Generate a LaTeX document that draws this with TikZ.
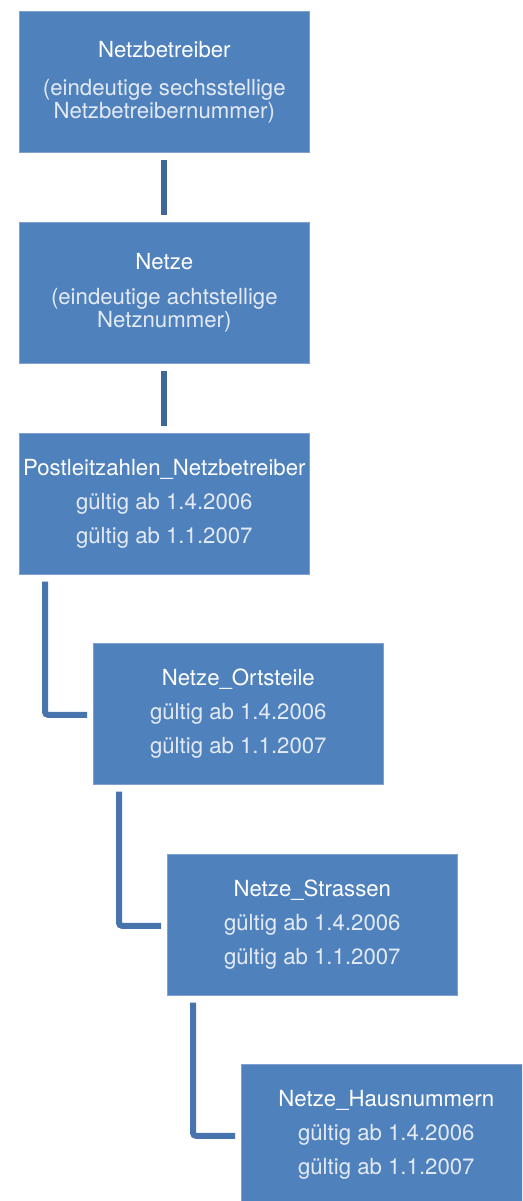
\documentclass[tikz,border=0pt]{standalone}
\usepackage{fontspec}
\setmainfont{TeX Gyre Heros}
\definecolor{boxblue}{HTML}{4F81BD}
\definecolor{boxedge}{HTML}{7FA0D0}
\definecolor{connA}{HTML}{3C6798}
\definecolor{connB}{HTML}{4874AE}
\definecolor{subtxt}{HTML}{E4EAF3}
\tikzset{
  box/.style={rectangle, fill=boxblue, draw=boxedge, line width=0.6pt, minimum width=290pt, minimum height=141pt,
    inner sep=0pt, align=center, text=white, anchor=north west, font=\fontsize{22.2}{34}\selectfont},
  boxA/.style={box, font=\fontsize{22.2}{23}\selectfont},
  connV/.style={draw=connA, line width=6pt},
  connL/.style={draw=connB, line width=6pt, rounded corners=3pt},
}
\newcommand{\subt}[1]{{\color{subtxt}#1}}
\begin{document}
\begin{tikzpicture}[x=1pt,y=-1pt]
\useasboundingbox (0,0) rectangle (522,1201);
\clip (0,0) rectangle (522,1201);
\node[boxA] (b1) at (19,11) {Netzbetreiber\\[15pt]\subt{(eindeutige sechsstellige}\\\subt{Netzbetreibernummer)}};
\node[boxA] (b2) at (19,222) {Netze\\[12pt]\subt{(eindeutige achtstellige}\\\subt{Netznummer)}};
\node[box] (b3) at (19,433) {Postleitzahlen\_Netzbetreiber\\\subt{gültig ab 1.4.2006}\\\subt{gültig ab 1.1.2007}};
\node[box] (b4) at (93,643) {Netze\_Ortsteile\\\subt{gültig ab 1.4.2006}\\\subt{gültig ab 1.1.2007}};
\node[box] (b5) at (167,854) {Netze\_Strassen\\\subt{gültig ab 1.4.2006}\\\subt{gültig ab 1.1.2007}};
\node[box] (b6) at (241,1064) {Netze\_Hausnummern\\\subt{gültig ab 1.4.2006}\\\subt{gültig ab 1.1.2007}};
\draw[connV, shorten >=7pt, shorten <=7pt] (b1) -- (b2);
\draw[connV, shorten >=7pt, shorten <=7pt] (b2) -- (b3);
\draw[connL] ([xshift=26pt,yshift=-7pt]b3.south west) |- ([xshift=-6pt,yshift=-1pt]b4.west);
\draw[connL] ([xshift=26pt,yshift=-7pt]b4.south west) |- ([xshift=-6pt,yshift=-1pt]b5.west);
\draw[connL] ([xshift=26pt,yshift=-7pt]b5.south west) |- ([xshift=-6pt,yshift=-1pt]b6.west);
\end{tikzpicture}
\end{document}
